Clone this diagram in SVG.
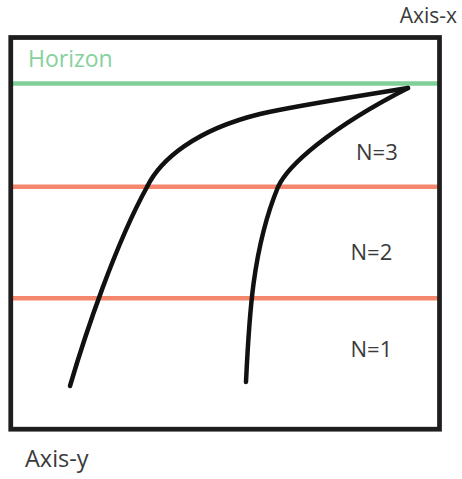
<svg xmlns="http://www.w3.org/2000/svg" width="462" height="479" viewBox="0 0 462 479">
  <style>
    .lbl { font-family: "Open Sans", "DejaVu Sans", sans-serif; font-size: 22px; fill: #3a3a3a; }
    .axis { font-size: 23.5px; }
    .ax { font-size: 21px; }
    .hz { fill: #86d19e; font-size: 23px; }
    .sep { stroke: #f4876c; stroke-width: 4.5; }
    .curve { fill: none; stroke: #111; stroke-width: 4.5; stroke-linecap: round; stroke-linejoin: round; }
  </style>
  <rect width="462" height="479" fill="#fff"/>
  <g id="levels">
    <line x1="11" y1="83.5" x2="440" y2="83.5" stroke="#7fcf98" stroke-width="4.5"/>
    <line class="sep" x1="11" y1="186.7" x2="440" y2="186.7"/>
    <line class="sep" x1="11" y1="298.3" x2="440" y2="298.3"/>
  </g>
  <g id="frame">
    <rect x="10.75" y="37.5" width="428.75" height="391.7" fill="none" stroke="#1e1e1e" stroke-width="4.75"/>
  </g>
  <g id="connectors">
    <path class="curve" d="M70,386 C85,335 115,245 147,187 C160,160 195,130 260,114 C300,105 360,96 408,88"/>
    <path class="curve" d="M246,382 C249,320 252,250 278,187 C288,165 330,128 408,88"/>
  </g>
  <g id="labels">
    <text class="lbl ax" x="457" y="22.5" text-anchor="end">Axis-x</text>
    <text class="lbl hz" x="28" y="66.5">Horizon</text>
    <text class="lbl" x="356" y="160">N=3</text>
    <text class="lbl" x="350.5" y="260">N=2</text>
    <text class="lbl" x="350.5" y="356.5">N=1</text>
    <text class="lbl axis" x="25" y="467">Axis-y</text>
  </g>
</svg>
